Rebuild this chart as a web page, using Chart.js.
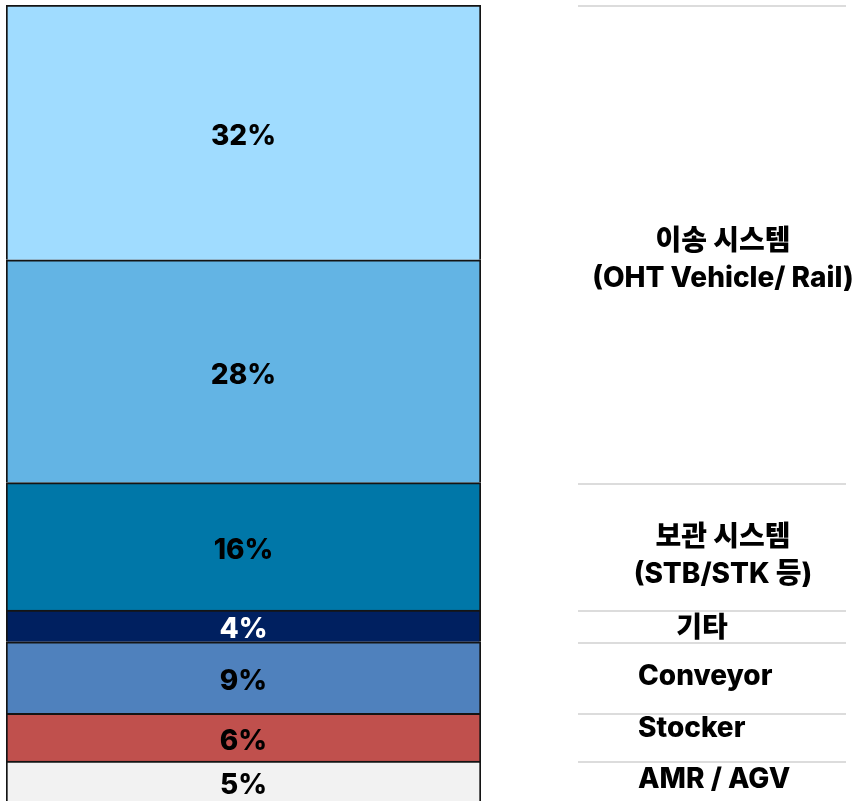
<!DOCTYPE html>
<html>
<head>
<meta charset="utf-8">
<script src="https://cdn.jsdelivr.net/npm/chart.js@4.4.1/dist/chart.umd.min.js"></script>
<style>
  html, body { margin: 0; padding: 0; background: #fff; }
</style>
</head>
<body>
<canvas id="chart" width="855" height="801"></canvas>
<script>
// segments from bottom to top
const segments = ['AMR / AGV', 'Stocker', 'Conveyor', '기타', '보관 시스템', '이송 시스템 (Rail)', '이송 시스템 (Vehicle)'];
const shares = [5, 6, 9, 4, 16, 28, 32];
const segColors = ['#f2f2f2', '#c0504d', '#4f81bd', '#002060', '#0077a8', '#63b4e4', '#a0dcff'];
const textColors = ['#000', '#000', '#000', '#fff', '#000', '#000', '#000'];

// right-hand group labels, bottom to top, and how many segments each covers
const groupLabels = [['AMR / AGV'], ['Stocker'], ['Conveyor'], ['기타'], ['보관 시스템', '(STB/STK 등)'], ['이송 시스템', '(OHT Vehicle/ Rail)']];
const groupSizes = [1, 1, 1, 1, 1, 2];

const FONT = '800 28px Inter, "Noto Sans CJK KR", sans-serif';

// placement of the group names (x, alignment, small vertical nudge)
const groupAlign = [
    { align: 'left', x: 638, dy: -2 },
    { align: 'left', x: 638, dy: -9 },
    { align: 'left', x: 638, dy: -1 },
    { align: 'center', x: 702, dy: 3 },
    { align: 'center', x: 723, dy: 10 },
    { align: 'center', x: 723, dy: 16 }
];

const labelPlugin = {
    id: 'labels',
    afterDatasetsDraw(chart) {
        const ctx = chart.ctx;
        const y = chart.scales.y;
        ctx.save();
        ctx.font = FONT;
        ctx.textBaseline = 'middle';

        // values inside bar
        ctx.textAlign = 'center';
        chart.data.datasets.forEach((ds, i) => {
            const bar = chart.getDatasetMeta(i).data[0];
            ctx.fillStyle = textColors[i];
            ctx.fillText(ds.data[0] + '%', bar.x, (bar.y + bar.base) / 2 + 4);
        });

        // group separators and names
        let idx = 0, cum = 0;
        groupSizes.forEach((n, g) => {
            const start = cum;
            for (let k = 0; k < n; k++) cum += shares[idx++];
            const yTop = y.getPixelForValue(cum);
            const yMid = (y.getPixelForValue(start) + yTop) / 2;

            ctx.strokeStyle = '#d0d0d0';
            ctx.lineWidth = 1.5;
            ctx.beginPath();
            ctx.moveTo(578, Math.round(yTop) + 1);
            ctx.lineTo(846, Math.round(yTop) + 1);
            ctx.stroke();

            const lines = groupLabels[g];
            const lh = 37;
            ctx.fillStyle = '#000';
            ctx.textAlign = groupAlign[g].align;
            lines.forEach((t, j) => {
                const ty = yMid + groupAlign[g].dy + (j - (lines.length - 1) / 2) * lh;
                ctx.fillText(t, groupAlign[g].x, ty);
            });
        });
        ctx.restore();
    }
};

new Chart(document.getElementById('chart'), {
    type: 'bar',
    data: {
        labels: ['share'],
        datasets: segments.map((name, i) => ({
            label: name,
            data: [shares[i]],
            backgroundColor: segColors[i],
            borderColor: '#141414',
            borderWidth: { top: 2, left: 2, right: 2, bottom: 0 },
            borderSkipped: false,
            barPercentage: 1,
            categoryPercentage: 1
        }))
    },
    options: {
        responsive: false,
        animation: false,
        layout: { padding: { top: 5, left: 6, right: 374, bottom: 0 } },
        plugins: {
            legend: { display: false },
            tooltip: { enabled: false }
        },
        scales: {
            x: { stacked: true, display: false },
            y: { stacked: true, display: false, min: 0, max: 100 }
        }
    },
    plugins: [labelPlugin]
});
</script>
</body>
</html>
